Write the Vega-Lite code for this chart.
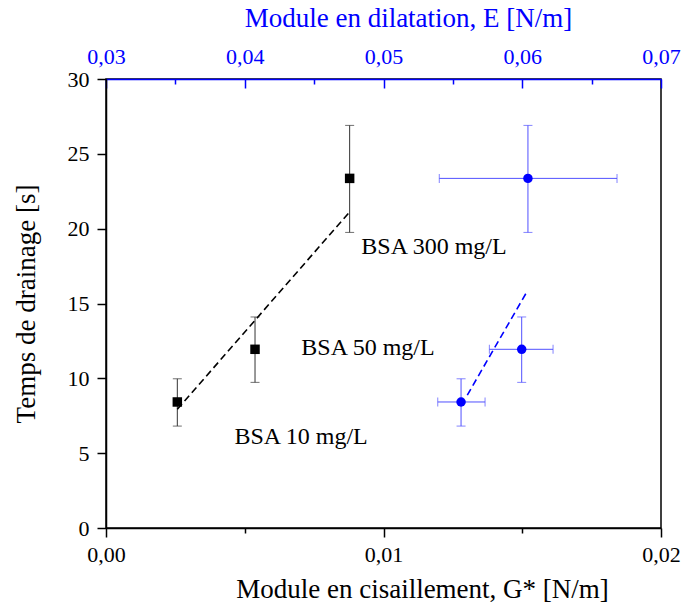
{
  "$schema": "https://vega.github.io/schema/vega-lite/v6.json",
  "width": 555,
  "height": 449,
  "autosize": "none",
  "padding": {"left": 106, "top": 79, "right": 22, "bottom": 78},
  "background": "white",
  "config": {
    "view": {"stroke": "black", "strokeWidth": 1.5},
    "font": "Liberation Serif",
    "axis": {"grid": false, "labelFont": "Liberation Serif", "titleFont": "Liberation Serif", "labelFontSize": 22, "titleFontSize": 27, "titleFontWeight": "normal", "domainWidth": 1.5, "tickWidth": 1.5}
  },
  "datasets": {
    "black": [
      {"G": 0.00257, "t": 8.42, "tlo": 6.81, "thi": 9.97},
      {"G": 0.00537, "t": 11.94, "tlo": 9.73, "thi": 14.1},
      {"G": 0.00878, "t": 23.36, "tlo": 19.75, "thi": 26.9}
    ],
    "blackFit": [
      {"G": 0.00257, "t": 7.93},
      {"G": 0.00877, "t": 21.1}
    ],
    "labels": [
      {"G": 0.01182, "t": 18.77, "label": "BSA 300 mg/L"},
      {"G": 0.00944, "t": 12.02, "label": "BSA 50 mg/L"},
      {"G": 0.00703, "t": 6.08, "label": "BSA 10 mg/L"}
    ],
    "blue": [
      {"E": 0.05559, "Elo": 0.05391, "Ehi": 0.05732, "t": 8.42, "tlo": 6.81, "thi": 9.97},
      {"E": 0.05996, "Elo": 0.05763, "Ehi": 0.06222, "t": 11.94, "tlo": 9.73, "thi": 14.1},
      {"E": 0.06041, "Elo": 0.05402, "Ehi": 0.06683, "t": 23.36, "tlo": 19.75, "thi": 26.9}
    ],
    "blueFit": [
      {"E": 0.05604, "t": 8.88},
      {"E": 0.06027, "t": 15.68}
    ]
  },
  "layer": [
    {
      "layer": [
        {
          "data": {"name": "black"},
          "mark": {"type": "rule", "color": "#333333", "strokeWidth": 1},
          "encoding": {
            "x": {"field": "G", "type": "quantitative", "scale": {"domain": [0, 0.02], "nice": false, "zero": false},
              "axis": {"orient": "bottom", "title": "Module en cisaillement, G* [N/m]", "values": [0, 0.005, 0.01, 0.015, 0.02],
                "labelExpr": "round(datum.value*1000) % 10 === 0 ? replace(format(datum.value, '.2f'), '.', ',') : ''",
                "tickSize": {"condition": {"test": "round(datum.value*1000) % 10 !== 0", "value": 5}, "value": 9},
                "labelPadding": 7, "titlePadding": 11, "titleX": 316, "domainColor": "black", "tickColor": "black", "labelColor": "black", "titleColor": "black", "labelFlush": false}},
            "y": {"field": "tlo", "type": "quantitative", "scale": {"domain": [0, 30], "nice": false},
              "axis": {"title": "Temps de drainage [s]", "values": [0, 2.5, 5, 7.5, 10, 12.5, 15, 17.5, 20, 22.5, 25, 27.5, 30],
                "labelExpr": "datum.value % 5 === 0 ? format(datum.value, 'd') : ''",
                "tickSize": {"condition": {"test": "datum.value % 5 !== 0", "value": 5}, "value": 9},
                "labelPadding": 8, "titlePadding": 27, "domainColor": "black", "tickColor": "black", "labelColor": "black", "titleColor": "black", "labelFlush": false}},
            "y2": {"field": "thi"}
          }
        },
        {
          "data": {"name": "black"},
          "mark": {"type": "tick", "orient": "horizontal", "color": "#333333", "thickness": 1, "size": 9},
          "encoding": {"x": {"field": "G", "type": "quantitative"}, "y": {"field": "tlo", "type": "quantitative"}}
        },
        {
          "data": {"name": "black"},
          "mark": {"type": "tick", "orient": "horizontal", "color": "#333333", "thickness": 1, "size": 9},
          "encoding": {"x": {"field": "G", "type": "quantitative"}, "y": {"field": "thi", "type": "quantitative"}}
        },
        {
          "data": {"name": "blackFit"},
          "mark": {"type": "line", "color": "black", "strokeWidth": 1.6, "strokeDash": [7, 4]},
          "encoding": {"x": {"field": "G", "type": "quantitative"}, "y": {"field": "t", "type": "quantitative"}}
        },
        {
          "data": {"name": "black"},
          "mark": {"type": "point", "shape": "square", "filled": true, "color": "black", "opacity": 1, "size": 90},
          "encoding": {"x": {"field": "G", "type": "quantitative"}, "y": {"field": "t", "type": "quantitative"}}
        },
        {
          "data": {"name": "labels"},
          "mark": {"type": "text", "font": "Liberation Serif", "fontSize": 24, "color": "black", "align": "center", "baseline": "middle"},
          "encoding": {"x": {"field": "G", "type": "quantitative"}, "y": {"field": "t", "type": "quantitative"}, "text": {"field": "label"}}
        }
      ]
    },
    {
      "layer": [
        {
          "data": {"name": "blue"},
          "mark": {"type": "rule", "color": "#5050ff", "strokeWidth": 1},
          "encoding": {
            "x": {"field": "E", "type": "quantitative", "scale": {"domain": [0.03, 0.07], "nice": false, "zero": false},
              "axis": {"orient": "top", "title": "Module en dilatation, E [N/m]", "values": [0.03, 0.035, 0.04, 0.045, 0.05, 0.055, 0.06, 0.065, 0.07],
                "labelExpr": "round(datum.value*1000) % 10 === 0 ? replace(format(datum.value, '.2f'), '.', ',') : ''",
                "tickSize": {"condition": {"test": "round(datum.value*1000) % 10 !== 0", "value": -5}, "value": -9},
                "labelPadding": 20, "titlePadding": 13, "titleX": 302, "domainColor": "blue", "tickColor": "blue", "labelColor": "blue", "titleColor": "blue", "labelFlush": false}},
            "y": {"field": "tlo", "type": "quantitative"},
            "y2": {"field": "thi"}
          }
        },
        {
          "data": {"name": "blue"},
          "mark": {"type": "rule", "color": "#5050ff", "strokeWidth": 1},
          "encoding": {"x": {"field": "Elo", "type": "quantitative"}, "x2": {"field": "Ehi"}, "y": {"field": "t", "type": "quantitative"}}
        },
        {
          "data": {"name": "blue"},
          "mark": {"type": "tick", "orient": "horizontal", "color": "#5050ff", "thickness": 1, "size": 9},
          "encoding": {"x": {"field": "E", "type": "quantitative"}, "y": {"field": "tlo", "type": "quantitative"}}
        },
        {
          "data": {"name": "blue"},
          "mark": {"type": "tick", "orient": "horizontal", "color": "#5050ff", "thickness": 1, "size": 9},
          "encoding": {"x": {"field": "E", "type": "quantitative"}, "y": {"field": "thi", "type": "quantitative"}}
        },
        {
          "data": {"name": "blue"},
          "mark": {"type": "tick", "orient": "vertical", "color": "#5050ff", "thickness": 1, "size": 9},
          "encoding": {"x": {"field": "Elo", "type": "quantitative"}, "y": {"field": "t", "type": "quantitative"}}
        },
        {
          "data": {"name": "blue"},
          "mark": {"type": "tick", "orient": "vertical", "color": "#5050ff", "thickness": 1, "size": 9},
          "encoding": {"x": {"field": "Ehi", "type": "quantitative"}, "y": {"field": "t", "type": "quantitative"}}
        },
        {
          "data": {"name": "blueFit"},
          "mark": {"type": "line", "color": "blue", "strokeWidth": 1.6, "strokeDash": [7, 4]},
          "encoding": {"x": {"field": "E", "type": "quantitative"}, "y": {"field": "t", "type": "quantitative"}}
        },
        {
          "data": {"name": "blue"},
          "mark": {"type": "point", "shape": "circle", "filled": true, "color": "blue", "opacity": 1, "size": 90},
          "encoding": {"x": {"field": "E", "type": "quantitative"}, "y": {"field": "t", "type": "quantitative"}}
        }
      ]
    }
  ],
  "resolve": {"scale": {"x": "independent"}}
}
